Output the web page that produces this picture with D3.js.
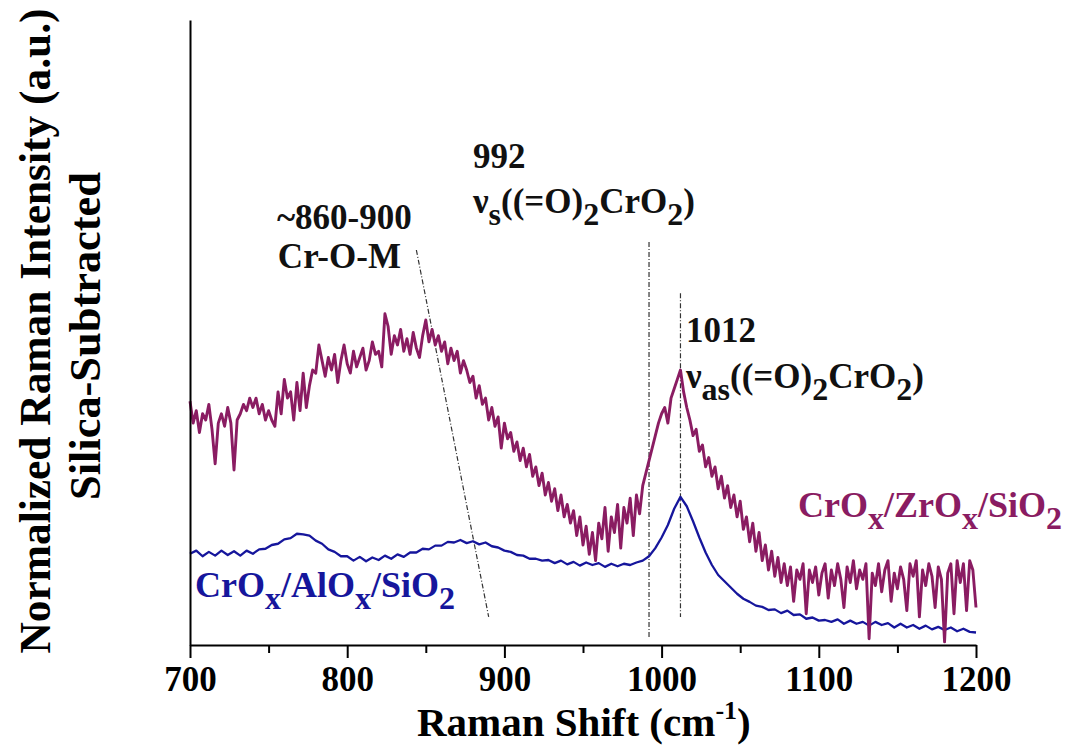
<!DOCTYPE html>
<html>
<head>
<meta charset="utf-8">
<script src="https://cdn.jsdelivr.net/npm/d3@7"></script>
<style>
  html, body { margin: 0; padding: 0; background: #fff; }
  svg { display: block; }
  text { font-family: "Liberation Serif", "Times New Roman", serif; font-weight: bold; }
</style>
</head>
<body>
<svg id="chart" width="1067" height="745"></svg>
<script>
// Raman shift grids (cm-1)
const zrShift = d3.range(700, 1201, 2);
const alShift = d3.range(700, 1201, 4);

// CrOx/ZrOx/SiO2 spectrum, normalized intensity (a.u.), one value per 2 cm-1
const zrIntensity = [
  3.90, 3.55, 3.75, 3.40, 3.70, 3.60, 3.85, 3.45, 2.90, 3.55,
  3.70, 3.50, 3.80, 3.55, 2.80, 3.60, 3.70, 3.85, 3.75, 3.95,
  3.80, 3.95, 3.70, 3.85, 3.60, 3.75, 3.60, 3.50, 4.05, 3.70,
  4.25, 3.95, 4.05, 3.60, 4.20, 3.75, 4.35, 3.80, 4.15, 4.40,
  4.35, 4.80, 4.55, 4.30, 4.60, 4.40, 4.65, 4.20, 4.55, 4.80,
  4.50, 4.35, 4.70, 4.45, 4.60, 4.75, 4.40, 4.55, 4.85, 4.65,
  4.70, 4.45, 5.30, 5.10, 4.65, 4.95, 4.80, 5.05, 4.70, 4.90,
  4.65, 5.00, 4.75, 4.60, 4.95, 5.20, 4.85, 5.05, 4.80, 4.95,
  4.70, 4.85, 4.50, 4.75, 4.55, 4.70, 4.35, 4.55, 4.40, 4.20,
  4.30, 3.95, 4.15, 3.85, 3.95, 3.60, 3.80, 3.50, 3.65, 3.15,
  3.55, 3.30, 3.40, 3.10, 3.25, 2.95, 3.15, 2.85, 3.05, 2.70,
  2.85, 2.55, 2.75, 2.40, 2.60, 2.30, 2.50, 2.15, 2.40, 2.05,
  2.25, 1.95, 2.15, 1.75, 2.05, 1.60, 1.90, 1.45, 1.80, 1.35,
  1.95, 1.70, 2.20, 1.50, 2.05, 1.80, 2.25, 1.55, 2.20, 1.95,
  2.35, 1.75, 2.40, 2.10, 2.55, 2.75, 2.95, 3.15, 3.35, 3.55,
  3.70, 3.80, 3.55, 3.95, 4.10, 4.25, 4.40, 4.05, 3.80, 3.60,
  3.35, 3.45, 3.10, 3.20, 2.85, 3.00, 2.70, 2.85, 2.50, 2.70,
  2.35, 2.55, 2.20, 2.40, 2.05, 2.30, 1.85, 2.05, 1.65, 1.95,
  1.50, 1.80, 1.35, 1.60, 1.20, 1.50, 1.10, 1.40, 1.00, 1.30,
  0.95, 1.25, 0.70, 1.20, 1.05, 1.30, 0.50, 1.20, 1.00, 1.25,
  0.80, 1.15, 1.30, 0.75, 1.20, 0.95, 1.30, 1.05, 0.60, 1.25,
  1.00, 1.35, 0.90, 1.20, 1.05, 1.30, 0.10, 1.15, 0.95, 1.30,
  0.85, 1.20, 1.35, 0.70, 1.15, 0.90, 1.25, 1.05, 0.55, 1.30,
  1.10, 1.35, 0.45, 1.20, 0.95, 1.30, 1.10, 0.60, 1.25, 1.05,
  0.05, 1.15, 1.30, 0.50, 1.35, 1.00, 1.30, 0.55, 1.35, 1.20,
  0.60
];

// CrOx/AlOx/SiO2 spectrum, normalized intensity (a.u.), one value per 4 cm-1
const alIntensity = [
  1.46, 1.51, 1.42, 1.49, 1.43, 1.51, 1.44, 1.50, 1.43, 1.51,
  1.46, 1.53, 1.54, 1.60, 1.62, 1.69, 1.71, 1.78, 1.77, 1.75,
  1.67, 1.62, 1.53, 1.49, 1.42, 1.42, 1.35, 1.41, 1.34, 1.40,
  1.36, 1.43, 1.38, 1.45, 1.41, 1.48, 1.48, 1.54, 1.53, 1.59,
  1.59, 1.65, 1.64, 1.68, 1.63, 1.66, 1.61, 1.64, 1.58, 1.56,
  1.51, 1.49, 1.44, 1.43, 1.38, 1.38, 1.35, 1.36, 1.31, 1.35,
  1.29, 1.33, 1.27, 1.32, 1.28, 1.31, 1.25, 1.30, 1.26, 1.30,
  1.28, 1.32, 1.35, 1.42, 1.55, 1.72, 1.92, 2.18, 2.37, 2.22,
  1.98, 1.72, 1.48, 1.28, 1.12, 1.02, 0.92, 0.82, 0.74, 0.69,
  0.63, 0.61, 0.56, 0.57, 0.51, 0.55, 0.48, 0.49, 0.42, 0.44,
  0.39, 0.40, 0.37, 0.41, 0.34, 0.39, 0.34, 0.37, 0.31, 0.37,
  0.32, 0.35, 0.28, 0.34, 0.28, 0.32, 0.26, 0.31, 0.25, 0.29,
  0.24, 0.28, 0.22, 0.26, 0.21, 0.20
];

// Axis ticks
const majorTicks = [700, 800, 900, 1000, 1100, 1200];
const minorTicks = [750, 850, 950, 1050, 1150];

// Band marker lines: [shift at top, intensity at top, shift at bottom, intensity at bottom]
const markerLines = [
  [844, 6.32, 890, 0.45],
  [992, 6.45, 992, 0.13],
  [1012, 5.63, 1012, 0.45]
];

// Band labels: anchor shift / intensity and rich-text parts (objects are subscripts)
const bandLabels = [
  { x: 755.3, y: 6.66, parts: ["~860-900"] },
  { x: 755.9, y: 6.03, parts: ["Cr-O-M"] },
  { x: 880.0, y: 7.63, parts: ["992"] },
  { x: 880.0, y: 6.91, parts: ["\u03bd", { sub: "s" }, "((=O)", { sub: "2" }, "CrO", { sub: "2" }, ")"] },
  { x: 1015.5, y: 4.85, parts: ["1012"] },
  { x: 1015.5, y: 4.11, parts: ["\u03bd", { sub: "as" }, "((=O)", { sub: "2" }, "CrO", { sub: "2" }, ")"] }
];

// Series names
const seriesNames = {
  zr: ["CrO", { sub: "x" }, "/ZrO", { sub: "x" }, "/SiO", { sub: "2" }],
  al: ["CrO", { sub: "x" }, "/AlO", { sub: "x" }, "/SiO", { sub: "2" }]
};

const colors = { zr: "#8a1c62", al: "#16169c", ink: "#111" };

const svg = d3.select("#chart");

const x = d3.scaleLinear().domain([700, 1200]).range([190, 976]);
const y = d3.scaleLinear().domain([0, 10]).range([645, 20]);

// Text helper with subscripts
function richText(parent, px, py, parts, size, color) {
  const subSize = Math.round(size * 0.9);
  const subShift = Math.round(size * 0.34);
  const t = parent.append("text")
    .attr("x", px).attr("y", py)
    .attr("font-size", size)
    .attr("fill", color);
  let shift = 0;
  parts.forEach(p => {
    const isSub = typeof p === "object";
    const target = isSub ? subShift : 0;
    t.append("tspan")
      .attr("dy", target - shift)
      .attr("font-size", isSub ? subSize : size)
      .text(isSub ? p.sub : p);
    shift = target;
  });
  return t;
}

// Marker lines
svg.append("g").selectAll("line").data(markerLines).join("line")
  .attr("x1", d => x(d[0])).attr("y1", d => y(d[1]))
  .attr("x2", d => x(d[2])).attr("y2", d => y(d[3]))
  .attr("stroke", "#333").attr("stroke-width", 1.2)
  .attr("stroke-dasharray", "5,2,1,2");

// Spectra
svg.append("path").datum(alIntensity)
  .attr("d", d3.line().x((d, i) => x(alShift[i])).y(d => y(d)))
  .attr("fill", "none")
  .attr("stroke", colors.al).attr("stroke-width", 2.3)
  .attr("stroke-linejoin", "round");

svg.append("path").datum(zrIntensity)
  .attr("d", d3.line().x((d, i) => x(zrShift[i])).y(d => y(d)))
  .attr("fill", "none")
  .attr("stroke", colors.zr).attr("stroke-width", 2.9)
  .attr("stroke-linejoin", "round");

// Axes
const xAxis = svg.append("g").attr("transform", `translate(0,${y(0)})`)
  .call(d3.axisBottom(x).tickValues(majorTicks).tickSize(13).tickSizeOuter(0).tickFormat(d3.format("d")));
xAxis.select(".domain").attr("stroke", "#000").attr("stroke-width", 2);
xAxis.selectAll(".tick line").attr("stroke", "#000").attr("stroke-width", 2);
xAxis.selectAll(".tick text")
  .attr("y", 46).attr("dy", 0)
  .attr("font-size", 35).attr("font-family", "Liberation Serif").attr("font-weight", "bold")
  .attr("fill", "#000");

const xMinor = svg.append("g").attr("transform", `translate(0,${y(0)})`)
  .call(d3.axisBottom(x).tickValues(minorTicks).tickSize(8).tickFormat(""));
xMinor.select(".domain").remove();
xMinor.selectAll(".tick line").attr("stroke", "#000").attr("stroke-width", 2);

const yAxis = svg.append("g").attr("transform", `translate(${x(700)},0)`)
  .call(d3.axisLeft(y).tickValues([]).tickSizeOuter(0));
yAxis.select(".domain").attr("stroke", "#000").attr("stroke-width", 2);

// Axis titles
const xTitle = svg.append("text")
  .attr("x", 417).attr("y", 736)
  .attr("font-size", 41).attr("fill", "#000");
xTitle.append("tspan").text("Raman Shift (cm");
xTitle.append("tspan").attr("dy", -17).attr("font-size", 26).text("-1");
xTitle.append("tspan").attr("dy", 17).text(")");

svg.append("text")
  .attr("transform", "translate(50,331) rotate(-90)")
  .attr("text-anchor", "middle")
  .attr("font-size", 44).attr("fill", "#000")
  .attr("textLength", 645).attr("lengthAdjust", "spacingAndGlyphs")
  .text("Normalized Raman Intensity (a.u.)");

svg.append("text")
  .attr("transform", "translate(100,336) rotate(-90)")
  .attr("text-anchor", "middle")
  .attr("font-size", 44).attr("fill", "#000")
  .attr("textLength", 328).attr("lengthAdjust", "spacingAndGlyphs")
  .text("Silica-Subtracted");

// Band labels
const labelG = svg.append("g");
bandLabels.forEach(b => richText(labelG, x(b.x), y(b.y), b.parts, 35, colors.ink));

// Series labels
richText(svg, 798, 517, seriesNames.zr, 36, colors.zr);
richText(svg, 195, 597, seriesNames.al, 36, colors.al);
</script>
</body>
</html>
